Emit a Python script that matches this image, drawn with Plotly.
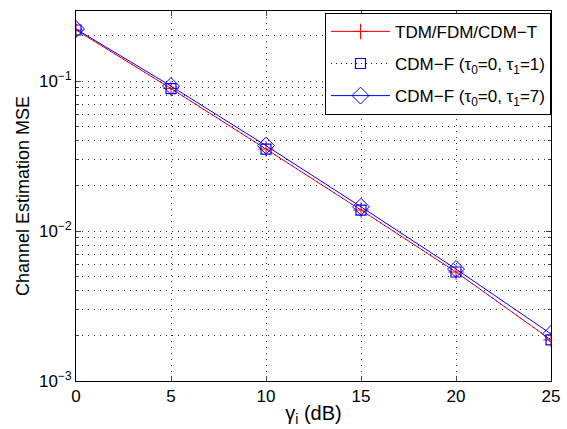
import plotly.graph_objects as go

snr_db = [0, 5, 10, 15, 20, 25]
mse_tdm = [0.219, 0.0891, 0.0352, 0.0138, 0.00533, 0.00188]
mse_cdmf_1 = [0.219, 0.0891, 0.0352, 0.0138, 0.00533, 0.00188]
mse_cdmf_7 = [0.222, 0.0926, 0.0371, 0.0145, 0.00558, 0.00206]

names = ["TDM/FDM/CDM−T",
         "CDM−F (τ<sub>0</sub>=0, τ<sub>1</sub>=1)",
         "CDM−F (τ<sub>0</sub>=0, τ<sub>1</sub>=7)"]
ytickvals = [1e-3, 1e-2, 1e-1]
yticktext = ["10<sup>−3</sup>", "10<sup>−2</sup>", "10<sup>−1</sup>"]
xtickvals = [0, 5, 10, 15, 20, 25]

FONT = "Liberation Sans, Arial, sans-serif"

fig = go.Figure()
fig.add_trace(go.Scatter(x=snr_db, y=mse_tdm, name=names[0], mode="lines+markers",
                         line=dict(color="#ff0000", width=1),
                         marker=dict(symbol="cross-thin-open", size=11,
                                     line=dict(color="#ff0000", width=1)),
                         legendgroup="a"))
fig.add_trace(go.Scatter(x=snr_db, y=mse_cdmf_1, name=names[1], mode="lines+markers",
                         line=dict(color="#0000ff", width=1, dash="1px,4px"),
                         marker=dict(symbol="square-open", size=10, color="#0000ff",
                                     line=dict(color="#0000ff", width=1.2)),
                         legendgroup="b"))
fig.add_trace(go.Scatter(x=snr_db, y=mse_cdmf_7, name=names[2], mode="lines+markers",
                         line=dict(color="#0000ff", width=1),
                         marker=dict(symbol="diamond-open", size=13, color="#0000ff",
                                     line=dict(color="#0000ff", width=1)),
                         legendgroup="c"))

grid = dict(showgrid=True, gridcolor="#333333", gridwidth=1, griddash="1px,5px")

fig.update_layout(
    width=567, height=429,
    margin=dict(l=76, r=16, t=11, b=48),
    paper_bgcolor="white", plot_bgcolor="white",
    font=dict(family=FONT, size=17, color="black"),
    showlegend=True,
    legend=dict(x=1, y=0.995, xanchor="right", yanchor="top",
                bordercolor="black", borderwidth=1, bgcolor="white",
                font=dict(size=17), tracegroupgap=7, traceorder="grouped",
                itemwidth=59),
    xaxis=dict(range=[0, 25], tickvals=xtickvals, ticks="inside", ticklen=5,
               showline=True, linecolor="black", linewidth=1, mirror="allticks",
               zeroline=False, automargin=False,
               title=dict(text="γ<sub>i</sub> (dB)", standoff=0),
               tickfont=dict(size=17), **grid),
    yaxis=dict(type="log", range=[-3, -0.533], tickvals=ytickvals, ticktext=yticktext,
               ticks="inside", ticklen=5, showline=True, linecolor="black", linewidth=1,
               mirror="allticks", zeroline=False, automargin=False,
               title=dict(text="Channel Estimation MSE", standoff=4, font=dict(size=18)),
               tickfont=dict(size=17),
               minor=dict(ticks="inside", ticklen=3, showgrid=True, gridcolor="#333333",
                          griddash="1px,5px", gridwidth=1, dtick="D1"),
               **grid),
)

fig.write_html("out.html")
